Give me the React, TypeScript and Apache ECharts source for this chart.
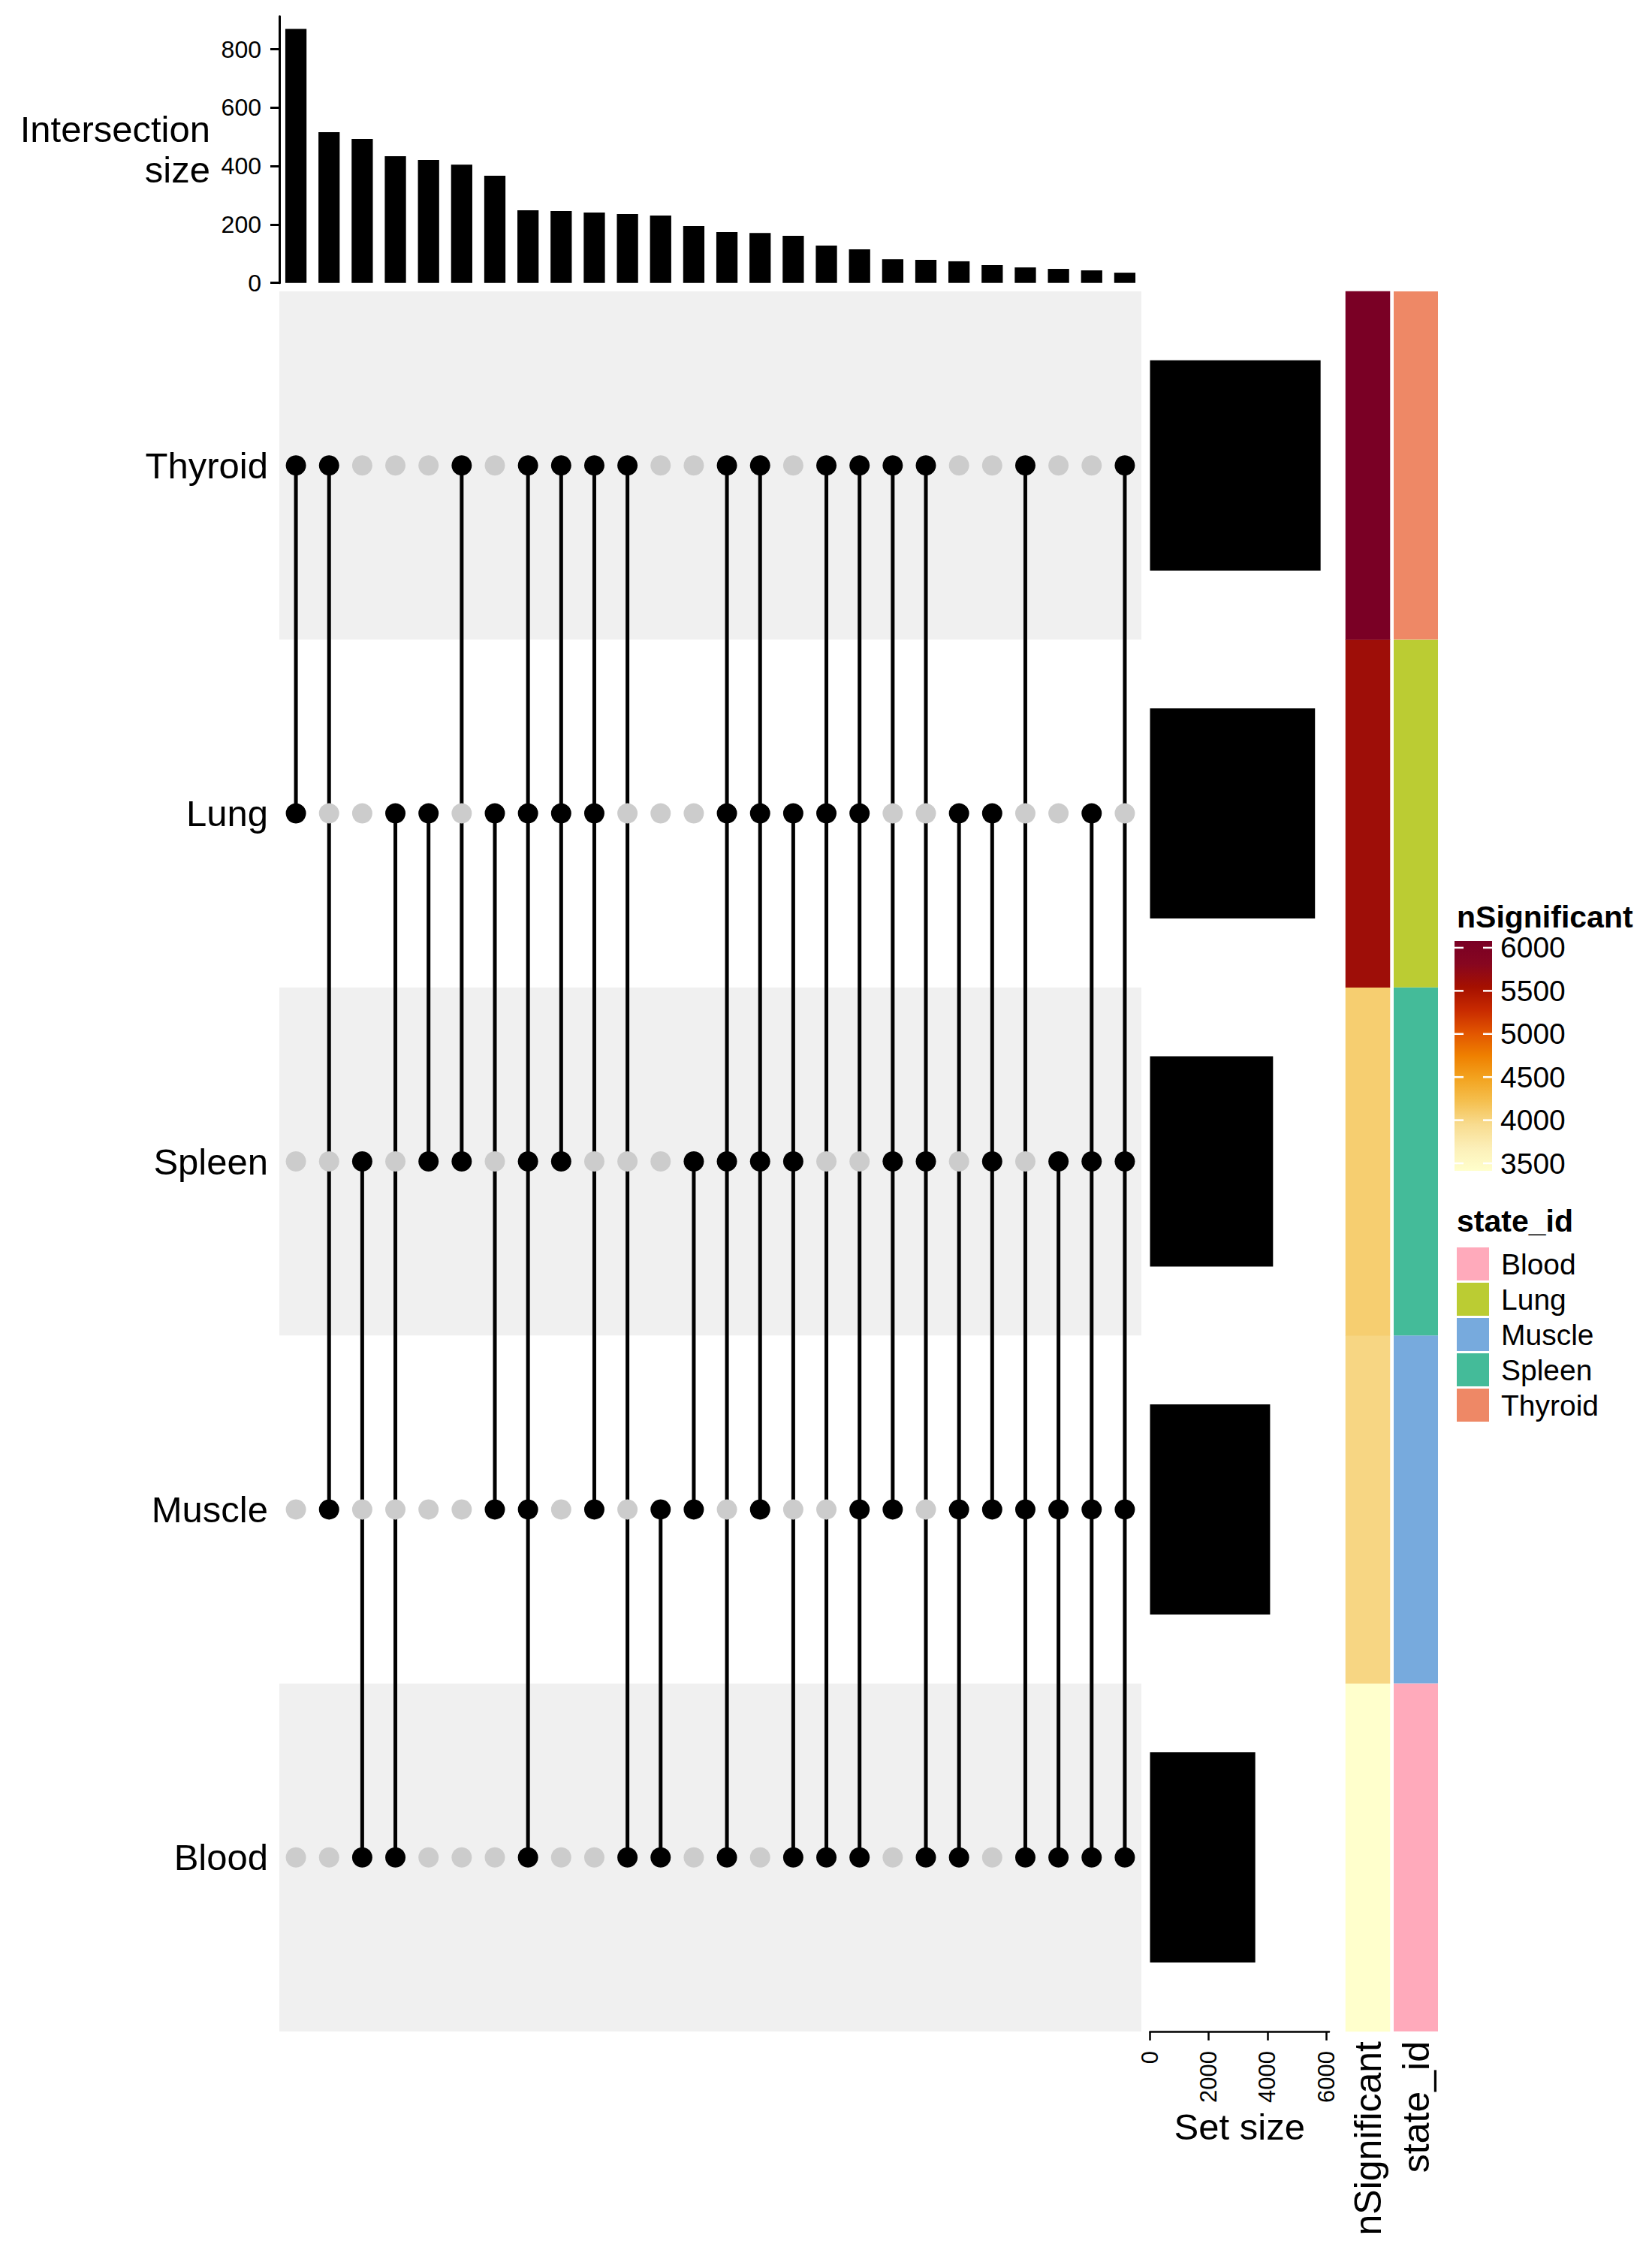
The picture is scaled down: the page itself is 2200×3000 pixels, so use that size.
import React, { useEffect, useRef } from 'react';
import * as echarts from 'echarts';

// ---------- data ----------
// sets, bottom row first (matrix & set-size axis order)
const setNames = ['Blood', 'Muscle', 'Spleen', 'Lung', 'Thyroid'];
const setSizes = [3585, 4090, 4190, 5620, 5810];
const nSignificant = [3413, 4000, 4080, 5610, 6078];
const setSizeTicks = [0, 2000, 4000, 6000];

// intersections (left to right)
const intersectionSizes = [870, 516, 493, 434, 421, 405, 367, 249, 246, 241, 236, 231, 195, 174, 171, 161, 128, 115, 81, 79, 74, 61, 53, 48, 43, 35];
const intersectionMembers = [
  ['Thyroid', 'Lung'],
  ['Thyroid', 'Muscle'],
  ['Spleen', 'Blood'],
  ['Lung', 'Blood'],
  ['Lung', 'Spleen'],
  ['Thyroid', 'Spleen'],
  ['Lung', 'Muscle'],
  ['Thyroid', 'Lung', 'Spleen', 'Muscle', 'Blood'],
  ['Thyroid', 'Lung', 'Spleen'],
  ['Thyroid', 'Lung', 'Muscle'],
  ['Thyroid', 'Blood'],
  ['Muscle', 'Blood'],
  ['Spleen', 'Muscle'],
  ['Thyroid', 'Lung', 'Spleen', 'Blood'],
  ['Thyroid', 'Lung', 'Spleen', 'Muscle'],
  ['Lung', 'Spleen', 'Blood'],
  ['Thyroid', 'Lung', 'Blood'],
  ['Thyroid', 'Lung', 'Muscle', 'Blood'],
  ['Thyroid', 'Spleen', 'Muscle'],
  ['Thyroid', 'Spleen', 'Blood'],
  ['Lung', 'Muscle', 'Blood'],
  ['Lung', 'Spleen', 'Muscle'],
  ['Thyroid', 'Muscle', 'Blood'],
  ['Spleen', 'Muscle', 'Blood'],
  ['Lung', 'Spleen', 'Muscle', 'Blood'],
  ['Thyroid', 'Spleen', 'Muscle', 'Blood'],
];
const intersectionTicks = [0, 200, 400, 600, 800];

// legends
const nsTicks = [3500, 4000, 4500, 5000, 5500, 6000];
const nsMin = 3413;
const nsMax = 6078;
const nsColors = ['#ffffcc', '#fcefb8', '#f8dc90', '#f5c050', '#f3a420', '#ef8000', '#e25500', '#c82a00', '#a51000', '#870620', '#7a0025'];
const stateLegendOrder = ['Blood', 'Lung', 'Muscle', 'Spleen', 'Thyroid'];
const stateColors: Record<string, string> = {
  Blood: '#FFAABB',
  Lung: '#BBCC33',
  Muscle: '#77AADD',
  Spleen: '#44BB99',
  Thyroid: '#EE8866',
};

const FONT = '"Liberation Sans", Arial, Helvetica, sans-serif';
const plain = (v: number) => String(v);

export default function App() {
  const ref = useRef<HTMLDivElement>(null);

  useEffect(() => {
    document.body.style.margin = '0';
    if (!ref.current) return;
    const chart = echarts.init(ref.current, undefined, { renderer: 'svg' });

    const cats = intersectionMembers.map((m) => m.join(' & '));

    const grayDots: number[][] = [];
    const blackDots: number[][] = [];
    const segs: number[][] = [];
    intersectionMembers.forEach((m, ci) => {
      const idx = m.map((s) => setNames.indexOf(s));
      setNames.forEach((s, ri) => {
        if (m.includes(s)) blackDots.push([ci, ri]);
        else grayDots.push([ci, ri]);
      });
      segs.push([ci, Math.min(...idx), Math.max(...idx)]);
    });

    const GL = 372;
    const GW = 1148;
    const MT = 388;
    const MH = 2317;

    const gradStops = nsColors
      .map((c, i) => ({ offset: 1 - i / (nsColors.length - 1), color: c }))
      .reverse();

    const graphics: any[] = [
      {
        type: 'text',
        left: 1940,
        top: 1200,
        style: { text: 'nSignificant', fontFamily: FONT, fontSize: 41, fontWeight: 'bold', fill: '#000' },
      },
      {
        type: 'text',
        left: 1940,
        top: 1605,
        style: { text: 'state_id', fontFamily: FONT, fontSize: 41, fontWeight: 'bold', fill: '#000' },
      },
    ];
    stateLegendOrder.forEach((s, i) => {
      const y = 1661 + i * 47;
      graphics.push({
        type: 'rect',
        shape: { x: 1940, y, width: 43, height: 44 },
        style: { fill: stateColors[s] },
      });
      graphics.push({
        type: 'text',
        x: 1999,
        y: y + 22,
        style: { text: s, fontFamily: FONT, fontSize: 39, fill: '#000', verticalAlign: 'middle' },
      });
    });

    const cellRender = (params: any, api: any) => {
      const c = api.coord([api.value(0), api.value(1)]);
      const sz = api.size([1, 1]);
      return {
        type: 'rect',
        shape: { x: c[0] - sz[0] / 2, y: c[1] - sz[1] / 2, width: sz[0], height: sz[1] },
        style: { fill: api.visual('color') },
      };
    };

    const option: any = {
      animation: false,
      backgroundColor: '#ffffff',
      textStyle: { fontFamily: FONT, color: '#000' },
      grid: [
        { left: GL, top: 21.7, width: GW, height: 355 },
        { left: GL, top: MT, width: GW, height: MH },
        { left: 1531.5, top: MT, width: 238.5, height: MH },
        { left: 1792, top: MT, width: 59, height: MH },
        { left: 1856, top: MT, width: 59, height: MH },
        { left: 1937, top: 1253, width: 50, height: 306 },
      ],
      xAxis: [
        { gridIndex: 0, type: 'category', data: cats, show: false },
        { gridIndex: 1, type: 'category', data: cats, show: false },
        {
          gridIndex: 2,
          type: 'value',
          min: 0,
          max: 6100,
          axisLine: { show: true, lineStyle: { color: '#000', width: 2.5 } },
          axisTick: { show: true, length: 12, lineStyle: { color: '#000', width: 2.5 }, customValues: setSizeTicks },
          axisLabel: { customValues: setSizeTicks, formatter: plain, rotate: 90, margin: 26, fontSize: 31, color: '#000', fontFamily: FONT },
          splitLine: { show: false },
          name: 'Set size',
          nameLocation: 'middle',
          nameGap: 99,
          nameTextStyle: { fontSize: 49, color: '#000', fontFamily: FONT },
        },
        {
          gridIndex: 3,
          type: 'category',
          data: ['nSignificant'],
          axisLine: { show: false },
          axisTick: { show: false },
          axisLabel: { rotate: 90, margin: 13, fontSize: 50, color: '#000', fontFamily: FONT },
        },
        {
          gridIndex: 4,
          type: 'category',
          data: ['state_id'],
          axisLine: { show: false },
          axisTick: { show: false },
          axisLabel: { rotate: 90, margin: 13, fontSize: 50, color: '#000', fontFamily: FONT },
        },
        { gridIndex: 5, type: 'value', min: 0, max: 1, show: false },
      ],
      yAxis: [
        {
          gridIndex: 0,
          type: 'value',
          min: 0,
          max: 913,
          axisLine: { show: true, lineStyle: { color: '#000', width: 3 } },
          axisTick: { show: true, length: 12, lineStyle: { color: '#000', width: 3 }, customValues: intersectionTicks },
          axisLabel: { customValues: intersectionTicks, formatter: plain, fontSize: 32, margin: 24, color: '#000', fontFamily: FONT },
          splitLine: { show: false },
          name: 'Intersection\nsize',
          nameLocation: 'middle',
          nameRotate: 0,
          nameGap: 92,
          nameTextStyle: { fontSize: 49, align: 'right', verticalAlign: 'middle', lineHeight: 54, color: '#000', fontFamily: FONT },
        },
        {
          gridIndex: 1,
          type: 'category',
          data: setNames,
          axisLine: { show: false },
          axisTick: { show: false },
          axisLabel: { fontSize: 49, margin: 15, color: '#000', fontFamily: FONT },
          splitArea: { show: true, areaStyle: { color: ['#f0f0f0', '#ffffff'] } },
        },
        { gridIndex: 2, type: 'category', data: setNames, show: false },
        { gridIndex: 3, type: 'category', data: setNames, show: false },
        { gridIndex: 4, type: 'category', data: setNames, show: false },
        {
          gridIndex: 5,
          type: 'value',
          min: nsMin,
          max: nsMax,
          position: 'right',
          axisLine: { show: false },
          axisTick: { show: false },
          splitLine: { show: false },
          axisLabel: { customValues: nsTicks, formatter: plain, margin: 11, fontSize: 39, color: '#000', fontFamily: FONT },
        },
      ],
      visualMap: {
        type: 'continuous',
        show: false,
        seriesIndex: 5,
        dimension: 2,
        min: nsMin,
        max: nsMax,
        inRange: { color: nsColors },
      },
      series: [
        {
          type: 'bar',
          xAxisIndex: 0,
          yAxisIndex: 0,
          data: intersectionSizes,
          barWidth: '64%',
          itemStyle: { color: '#000' },
        },
        {
          type: 'custom',
          xAxisIndex: 1,
          yAxisIndex: 1,
          encode: { x: 0, y: [1, 2] },
          data: segs,
          z: 2,
          renderItem: (params: any, api: any) => {
            const x = api.value(0);
            const p1 = api.coord([x, api.value(1)]);
            const p2 = api.coord([x, api.value(2)]);
            return {
              type: 'line',
              shape: { x1: p1[0], y1: p1[1], x2: p2[0], y2: p2[1] },
              style: { stroke: '#000', lineWidth: 5 },
            };
          },
        },
        {
          type: 'scatter',
          xAxisIndex: 1,
          yAxisIndex: 1,
          data: grayDots,
          symbolSize: 27,
          z: 3,
          itemStyle: { color: '#cccccc', opacity: 1 },
        },
        {
          type: 'scatter',
          xAxisIndex: 1,
          yAxisIndex: 1,
          data: blackDots,
          symbolSize: 27,
          z: 4,
          itemStyle: { color: '#000000', opacity: 1 },
        },
        {
          type: 'bar',
          xAxisIndex: 2,
          yAxisIndex: 2,
          data: setSizes,
          barWidth: '60.4%',
          itemStyle: { color: '#000' },
        },
        {
          type: 'heatmap',
          xAxisIndex: 3,
          yAxisIndex: 3,
          data: setNames.map((s, i) => [0, i, nSignificant[i]]),
        },
        {
          type: 'custom',
          xAxisIndex: 4,
          yAxisIndex: 4,
          encode: { x: 0, y: 1 },
          data: setNames.map((s, i) => ({ value: [0, i], itemStyle: { color: stateColors[s] } })),
          renderItem: cellRender,
        },
        {
          type: 'custom',
          xAxisIndex: 5,
          yAxisIndex: 5,
          encode: { x: 0, y: 1 },
          data: [[0, nsMin]],
          renderItem: (params: any, api: any) => {
            const tl = api.coord([0, nsMax]);
            const br = api.coord([1, nsMin]);
            return {
              type: 'rect',
              shape: { x: tl[0], y: tl[1], width: br[0] - tl[0], height: br[1] - tl[1] },
              style: { fill: new echarts.graphic.LinearGradient(0, 0, 0, 1, gradStops) },
            };
          },
        },
        {
          type: 'custom',
          xAxisIndex: 5,
          yAxisIndex: 5,
          encode: { x: 0, y: 1 },
          data: nsTicks.map((v) => [0, v]),
          z: 5,
          renderItem: (params: any, api: any) => {
            const v = api.value(1);
            const a = api.coord([0, v]);
            const b = api.coord([1, v]);
            return {
              type: 'group',
              children: [
                { type: 'line', shape: { x1: a[0], y1: a[1], x2: a[0] + 12, y2: a[1] }, style: { stroke: '#fff', lineWidth: 2.5 } },
                { type: 'line', shape: { x1: b[0] - 12, y1: b[1], x2: b[0], y2: b[1] }, style: { stroke: '#fff', lineWidth: 2.5 } },
              ],
            };
          },
        },
      ],
      graphic: graphics,
    };

    chart.setOption(option);
    return () => {
      chart.dispose();
    };
  }, []);

  return <div ref={ref} style={{ width: 2200, height: 3000 }} />;
}
